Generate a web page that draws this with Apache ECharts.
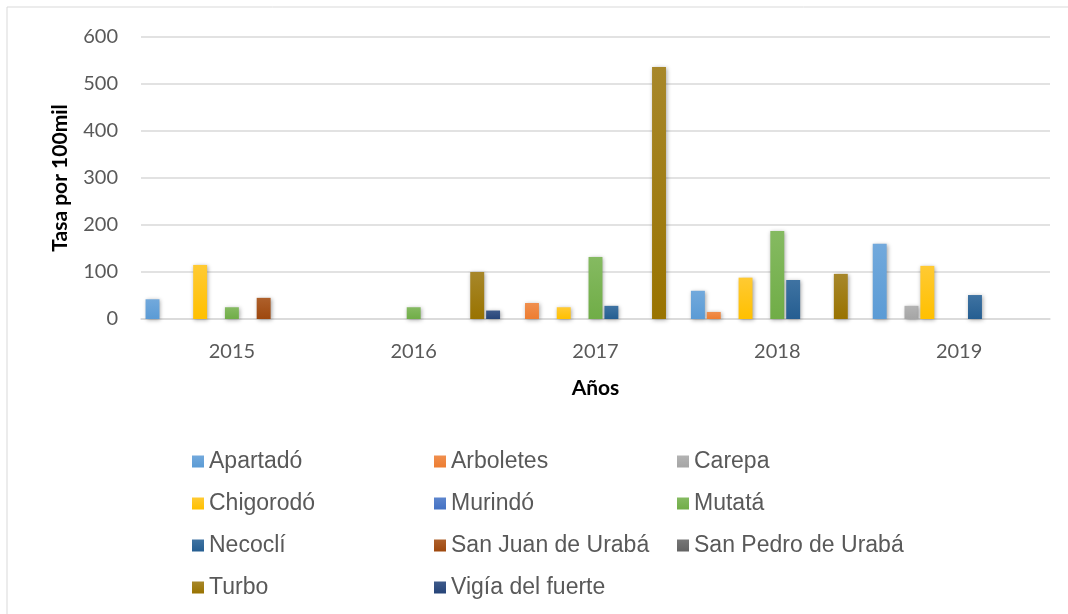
<!DOCTYPE html>
<html>
<head>
<meta charset="utf-8">
<script src="https://cdn.jsdelivr.net/npm/echarts@6/dist/echarts.min.js"></script>
<style>
  html, body { margin: 0; padding: 0; background: #fff; }
  #chart { width: 1068px; height: 614px; }
</style>
</head>
<body>
<div id="chart"></div>
<script>
const years = ['2015', '2016', '2017', '2018', '2019']
const yTicks = [0, 100, 200, 300, 400, 500, 600]

const apartado = [42, 0, 0, 60, 160]
const arboletes = [0, 0, 34, 15, 0]
const carepa = [0, 0, 0, 0, 28]
const chigorodo = [115, 0, 25, 88, 113]
const murindo = [0, 0, 0, 0, 0]
const mutata = [25, 25, 132, 187, 0]
const necocli = [0, 0, 28, 83, 51]
const sanJuan = [45, 0, 0, 0, 0]
const sanPedro = [0, 0, 0, 0, 0]
const turbo = [0, 100, 536, 96, 0]
const vigia = [0, 18, 0, 0, 0]

const seriesList = [
  { name: 'Apartadó', data: apartado, color: '#5B9BD5', light: '#72A9DC' },
  { name: 'Arboletes', data: arboletes, color: '#ED7D31', light: '#F08F4E' },
  { name: 'Carepa', data: carepa, color: '#A5A5A5', light: '#B3B3B3' },
  { name: 'Chigorodó', data: chigorodo, color: '#FFC000', light: '#FFCA33' },
  { name: 'Murindó', data: murindo, color: '#4472C4', light: '#5C85CD' },
  { name: 'Mutatá', data: mutata, color: '#70AD47', light: '#85BA61' },
  { name: 'Necoclí', data: necocli, color: '#255E91', light: '#3F73A2' },
  { name: 'San Juan de Urabá', data: sanJuan, color: '#9E480E', light: '#AE602B' },
  { name: 'San Pedro de Urabá', data: sanPedro, color: '#636363', light: '#777777' },
  { name: 'Turbo', data: turbo, color: '#997300', light: '#A7872A' },
  { name: 'Vigía del fuerte', data: vigia, color: '#264478', light: '#3E5A8A' }
]

const legendColumns = [
  ['Apartadó', 'Chigorodó', 'Necoclí', 'Turbo'],
  ['Arboletes', 'Murindó', 'San Juan de Urabá', 'Vigía del fuerte'],
  ['Carepa', 'Mutatá', 'San Pedro de Urabá']
]
const legendLefts = [187, 429, 672]

const chart = echarts.init(document.getElementById('chart'))

const legendStyle = {
  orient: 'vertical',
  top: 445,
  itemWidth: 12,
  itemHeight: 12,
  itemGap: 19,
  icon: 'rect',
  textStyle: {
    fontFamily: 'Liberation Sans',
    fontSize: 23,
    color: '#595959',
    lineHeight: 23
  }
}

chart.setOption({
  animation: false,
  graphic: [{
    type: 'rect',
    shape: { x: 7, y: 7, width: 1200, height: 800 },
    style: { fill: 'none', stroke: '#D9D9D9', lineWidth: 1 },
    silent: true
  }],
  legend: legendColumns.map((names, i) => Object.assign({}, legendStyle, {
    left: legendLefts[i],
    data: names
  })),
  grid: {
    left: 141,
    right: 18,
    top: 37,
    bottom: 295
  },
  xAxis: {
    type: 'category',
    data: years,
    name: 'Años',
    nameLocation: 'middle',
    nameGap: 59,
    nameTextStyle: {
      fontFamily: 'Lato',
      fontWeight: 'bold',
      fontSize: 21,
      color: '#000'
    },
    axisLine: { lineStyle: { color: '#D9D9D9', width: 1.5 } },
    axisTick: { show: false },
    axisLabel: {
      margin: 23,
      fontFamily: 'Lato',
      fontSize: 20,
      color: '#595959'
    }
  },
  yAxis: {
    type: 'value',
    min: yTicks[0],
    max: yTicks[yTicks.length - 1],
    interval: 100,
    name: 'Tasa por 100mil',
    nameLocation: 'middle',
    nameGap: 70,
    nameTextStyle: {
      fontFamily: 'Lato',
      fontWeight: 'bold',
      fontSize: 21,
      color: '#000'
    },
    axisLine: { show: false },
    axisTick: { show: false },
    axisLabel: {
      margin: 23,
      fontFamily: 'Lato',
      fontSize: 20,
      color: '#595959'
    },
    splitLine: { lineStyle: { color: '#D9D9D9', width: 1.5 } }
  },
  series: seriesList.map(s => ({
    name: s.name,
    type: 'bar',
    data: s.data,
    barGap: '14%',
    barCategoryGap: '5%',
    itemStyle: {
      color: new echarts.graphic.LinearGradient(0, 0, 0, 1, [
        { offset: 0, color: s.light },
        { offset: 1, color: s.color }
      ]),
      shadowColor: 'rgba(0,0,0,0.35)',
      shadowBlur: 4,
      shadowOffsetX: 1,
      shadowOffsetY: 1
    }
  }))
})
</script>
</body>
</html>
